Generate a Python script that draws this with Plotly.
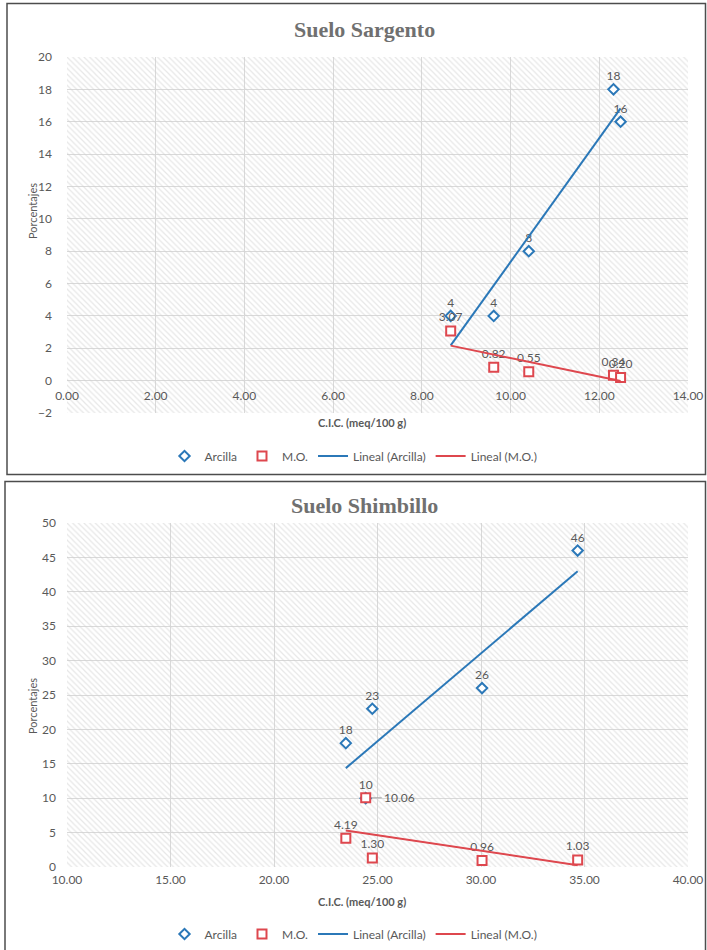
import numpy as np
import plotly.graph_objects as go

# ---- Suelo Sargento ----
cic_sargento = [8.65, 9.62, 10.41, 12.32, 12.48]
arcilla_sargento = [4, 4, 8, 18, 16]
mo_sargento = [3.07, 0.82, 0.55, 0.34, 0.20]

# ---- Suelo Shimbillo ----
cic_shimbillo = [23.47, 24.43, 24.75, 30.05, 34.67]
arcilla_shimbillo = [18, 10, 23, 26, 46]
mo_shimbillo = [4.19, 10.06, 1.30, 0.96, 1.03]

titles = ["Suelo Sargento", "Suelo Shimbillo"]
x_title = "C.I.C. (meq/100 g)"
y_title = "Porcentajes"

BLUE = "#2B78B8"
RED = "#DE474E"
GREY = "#595959"
GRID = "#D9D9D9"
FONT = "Lato, 'Open Sans', sans-serif"

W, H = 707, 950


def py(v):
    """pixel row -> paper fraction"""
    return 1 - v / H


def px(v):
    return v / W


fig = go.Figure()


def add_panel(cic, arc, mo, xa, ya, legend, xrange_, yrange_, mo_side_label):
    x0, x1 = xrange_
    y0, y1 = yrange_
    # hatched plot-area background
    fig.add_trace(go.Scatter(
        x=[x0, x1, x1, x0, x0], y=[y0, y0, y1, y1, y0],
        xaxis=xa, yaxis=ya, mode="none", fill="toself",
        fillcolor="rgba(0,0,0,0)",
        fillpattern=dict(shape="\\", fgcolor="#CFCFCF", bgcolor="rgba(0,0,0,0)",
                         size=4, solidity=0.3),
        hoverinfo="skip", showlegend=False))

    cic_a = np.array(cic)
    xs = np.array([cic_a.min(), cic_a.max()])
    fit_arc = np.polyfit(cic_a, np.array(arc, float), 1)
    fit_mo = np.polyfit(cic_a, np.array(mo, float), 1)

    fig.add_trace(go.Scatter(
        x=cic, y=arc, xaxis=xa, yaxis=ya, mode="markers+text", name="Arcilla",
        legend=legend,
        marker=dict(symbol="diamond", size=8, color="white", line=dict(width=2, color=BLUE)),
        texttemplate="%{y:.0f}", textposition="top center",
        textfont=dict(family=FONT, size=12, color=GREY)))

    mo_templates = ["" if side else "%{y:.2f}" for side in mo_side_label]
    fig.add_trace(go.Scatter(
        x=cic, y=mo, xaxis=xa, yaxis=ya, mode="markers+text", name="M.O.",
        legend=legend,
        marker=dict(symbol="square", size=9, color="white", line=dict(width=2, color=RED)),
        texttemplate=mo_templates, textposition="top center",
        textfont=dict(family=FONT, size=12, color=GREY)))

    # labels placed to the right of the point with a short leader line
    for i, side in enumerate(mo_side_label):
        if side:
            fig.add_annotation(
                x=cic[i], y=mo[i], xref=xa, yref=ya, text=f"{mo[i]:.2f}",
                showarrow=True, arrowhead=0, arrowwidth=1, arrowcolor="#A6A6A6",
                ax=16, ay=0, xanchor="left", yanchor="middle", standoff=6,
                font=dict(family=FONT, size=12, color=GREY))

    fig.add_trace(go.Scatter(
        x=xs, y=np.polyval(fit_arc, xs), xaxis=xa, yaxis=ya, mode="lines",
        name="Lineal (Arcilla)", legend=legend, line=dict(color=BLUE, width=2)))
    fig.add_trace(go.Scatter(
        x=xs, y=np.polyval(fit_mo, xs), xaxis=xa, yaxis=ya, mode="lines",
        name="Lineal (M.O.)", legend=legend, line=dict(color=RED, width=2)))


add_panel(cic_sargento, arcilla_sargento, mo_sargento, "x", "y", "legend",
          (0, 14), (-2, 20), [False] * 5)
add_panel(cic_shimbillo, arcilla_shimbillo, mo_shimbillo, "x2", "y2", "legend2",
          (10, 40), (0, 50), [False, True, False, False, False])

xdom = [px(67), px(688)]
top_ydom = [py(413), py(57)]
bot_ydom = [py(867), py(523)]

tickfont = dict(family=FONT, size=12, color=GREY)
common_x = dict(showgrid=True, gridcolor=GRID, gridwidth=1, zeroline=False,
                showline=False, ticks="", tickformat=".2f", tickfont=tickfont,
                domain=xdom, automargin=False)
common_y = dict(showgrid=True, gridcolor=GRID, gridwidth=1, zeroline=False,
                showline=False, ticks="", tickfont=tickfont, automargin=False)

# x axis of the first panel crosses the value axis at 0
zero_pos = top_ydom[0] + (0 - (-2)) / (20 - (-2)) * (top_ydom[1] - top_ydom[0])

legend_style = dict(orientation="h", x=0.5, xanchor="center", yanchor="middle",
                    font=dict(family=FONT, size=12, color=GREY), itemwidth=30,
                    bgcolor="rgba(0,0,0,0)")

fig.update_layout(
    width=W, height=H, margin=dict(l=0, r=0, t=0, b=0, pad=0, autoexpand=False),
    paper_bgcolor="white", plot_bgcolor="white",
    font=dict(family=FONT, color=GREY),
    xaxis=dict(common_x, range=[0, 14], dtick=2, anchor="free", position=zero_pos,
               ticklabelstandoff=6),
    yaxis=dict(common_y, range=[-2, 20], dtick=2, domain=top_ydom, anchor="x",
               ticklabelstandoff=14),
    xaxis2=dict(common_x, range=[10, 40], dtick=5, anchor="y2", ticklabelstandoff=4),
    yaxis2=dict(common_y, range=[0, 50], dtick=5, domain=bot_ydom, anchor="x2",
                ticklabelstandoff=10),
    legend=dict(legend_style, y=py(456)),
    legend2=dict(legend_style, y=py(934)),
)

# chart frames
fig.add_shape(type="rect", xref="paper", yref="paper",
              x0=px(7), x1=px(705.5), y0=py(474.5), y1=py(3.5),
              line=dict(color="#4D4D4D", width=1.5), fillcolor="rgba(0,0,0,0)", layer="above")
fig.add_shape(type="rect", xref="paper", yref="paper",
              x0=px(5), x1=px(705.5), y0=py(960), y1=py(481.5),
              line=dict(color="#4D4D4D", width=1.5), fillcolor="rgba(0,0,0,0)", layer="above")

# titles and axis titles
for title, ty, xt_y, yt_y in [(titles[0], 30, 422, 211), (titles[1], 505, 901, 706)]:
    fig.add_annotation(x=px(364), y=py(ty), xref="paper", yref="paper",
                       xanchor="center", yanchor="middle", text=f"<b>{title}</b>",
                       showarrow=False, font=dict(family="'Liberation Serif', serif", size=22,
                                                  color="#707070"))
    fig.add_annotation(x=px(362), y=py(xt_y), xref="paper", yref="paper",
                       xanchor="center", yanchor="middle",
                       text=f"<b>{x_title}</b>", showarrow=False,
                       font=dict(family=FONT, size=11, color=GREY))
    fig.add_annotation(x=px(32), y=py(yt_y), xref="paper", yref="paper",
                       xanchor="center", yanchor="middle", text=y_title,
                       textangle=-90, showarrow=False,
                       font=dict(family=FONT, size=11, color=GREY))

fig.write_html("out.html")
